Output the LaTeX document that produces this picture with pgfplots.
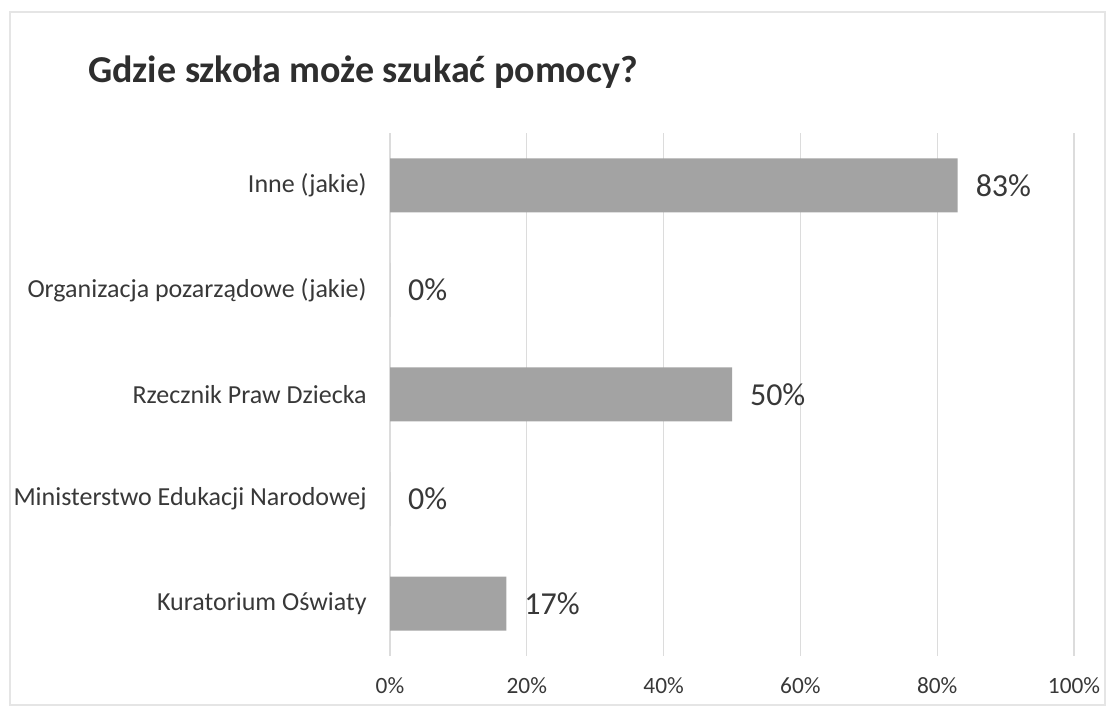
\documentclass[border=0pt]{standalone}
\usepackage{pgfplots}
\pgfplotsset{compat=1.18}
\usepackage{fontspec}
\setmainfont{Carlito}
\definecolor{txt}{HTML}{383838}
\definecolor{ttl}{HTML}{2E2E2E}
\definecolor{barc}{HTML}{A3A3A3}
\definecolor{gridc}{HTML}{DCDCDC}
\begin{document}
\begin{tikzpicture}[x=0.75pt,y=0.75pt]
\path[use as bounding box] (0,0) rectangle (1109,710);
\draw[black!10, line width=1pt] (10,5) rectangle (1105,698);
\node[anchor=west, inner sep=0pt, font=\fontsize{28.5}{34}\selectfont\bfseries, text=ttl] at (88,638) {Gdzie szkoła może szukać pomocy?};
\begin{axis}[
  at={(292.5pt,40.5pt)}, anchor=south west,
  scale only axis, width=513pt, height=392.25pt,
  xbar, bar width=40.5pt,
  xmin=0, xmax=100, ymin=-0.5, ymax=4.5,
  ytick={0,1,2,3,4},
  yticklabels={Kuratorium Oświaty, Ministerstwo Edukacji Narodowej, Rzecznik Praw Dziecka, Organizacja pozarządowe (jakie), Inne (jakie)},
  xtick={0,20,40,60,80,100},
  xticklabels={0\%,20\%,40\%,60\%,80\%,100\%},
  axis line style={draw=none},
  major tick length=0pt,
  xmajorgrids, grid style={gridc, line width=1pt},
  yticklabel style={font=\fontsize{19.5}{23}\selectfont, text=txt, xshift=-14pt},
  xticklabel style={font=\fontsize{17.5}{21}\selectfont, text=txt, yshift=-13pt},
  /pgf/number format/assume math mode=true,
  point meta=x,
  nodes near coords={\pgfmathprintnumber{\pgfplotspointmeta}\%},
  nodes near coords style={anchor=west, font=\fontsize{24}{28}\selectfont, text=txt, xshift=10pt},
]
\addplot[fill=barc, draw=none] coordinates {(17,0) (0,1) (50,2) (0,3) (83,4)};
\end{axis}
\end{tikzpicture}
\end{document}
